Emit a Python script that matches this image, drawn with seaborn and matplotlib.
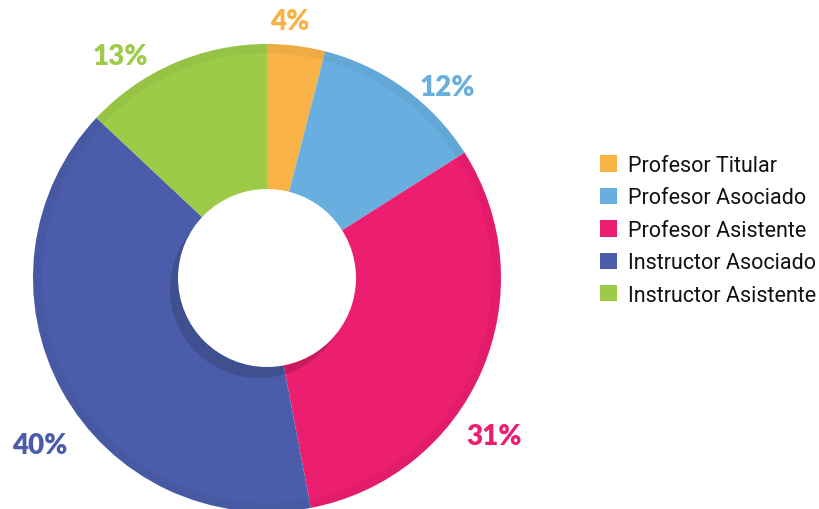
import matplotlib
matplotlib.use('Agg')
import matplotlib.pyplot as plt
import seaborn as sns
from matplotlib.patches import Circle

# data
categories = ['Profesor Titular', 'Profesor Asociado', 'Profesor Asistente',
              'Instructor Asociado', 'Instructor Asistente']
shares = [4, 12, 31, 40, 13]
colors = ['#F9B246', '#68AEDF', '#EC1E70', '#4B5DAA', '#9DCB48']

sns.set_theme(style='white')
plt.rcParams['font.family'] = ['Roboto', 'DejaVu Sans']

fig = plt.figure(figsize=(8.2, 5.1), dpi=100)
ax = fig.add_axes([0, 0, 1, 1])

cx, cy, r_out, r_in = 267, 231, 234, 89

wedges, _ = ax.pie(shares, colors=colors, startangle=90, counterclock=False,
                   center=(cx, cy), radius=r_out, frame=True,
                   wedgeprops=dict(linewidth=0))
# slightly darker outer rim
rim, _ = ax.pie(shares, colors=colors, startangle=90, counterclock=False,
                center=(cx, cy), radius=r_out, frame=True,
                wedgeprops=dict(width=9, linewidth=0))
for w in rim:
    w.set_facecolor('black')
    w.set_alpha(0.04)

# hole shadow and hole
ax.add_patch(Circle((cx - 8, cy - 11), r_in, color='black', alpha=0.15, lw=0))
ax.add_patch(Circle((cx, cy), r_in, color='white', lw=0, zorder=5))
ax.set_xlim(0, 820)
ax.set_ylim(0, 510)
ax.set_aspect('equal')
ax.axis('off')

# percent labels
label_pos = [(290, 488), (447, 422), (494, 73), (40, 64), (120, 453)]
for v, c, (x, y) in zip(shares, colors, label_pos):
    ax.text(x, y, f'{v}%', color=c, fontsize=20, fontweight='heavy',
            ha='center', va='center', family=['Lato', 'DejaVu Sans'])

leg = ax.legend(wedges, categories, loc='upper left',
                bbox_to_anchor=(600 / 820, 1 - 156 / 510),
                frameon=False, fontsize=15.5, handlelength=0.8,
                handleheight=0.8, handletextpad=0.5, labelspacing=0.53,
                borderaxespad=0, borderpad=0)
for t in leg.get_texts():
    t.set_color('#111111')

fig.savefig('out.png', dpi=100)
